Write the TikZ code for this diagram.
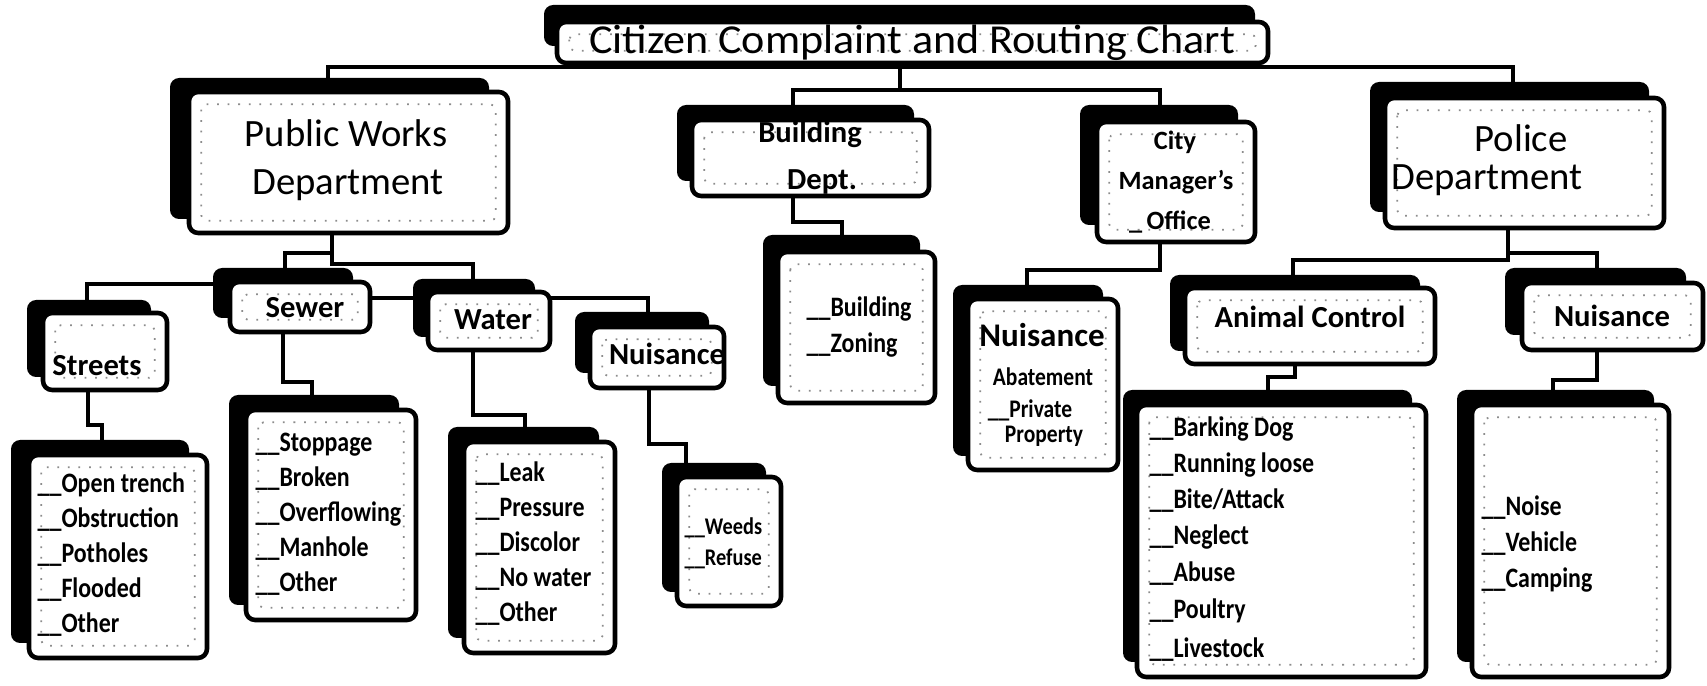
\documentclass[tikz,border=0pt]{standalone}
\usepackage{fontspec}
\setmainfont{Carlito}
\newfontfamily\listfont[FakeStretch=0.85]{Carlito}
\newfontfamily\titlefont[FakeStretch=1.07]{Carlito}
\pgfdeclarelayer{bg}
\pgfsetlayers{bg,main}
\tikzset{
 backsheet/.style={fill=black, rounded corners=2.6pt},
 frontcard/.style={rectangle, draw=black, fill=white, line width=1.3pt, rounded corners=2.6pt, inner sep=0pt, outer sep=0pt},
 innerdots/.style={draw=black!45, line width=0.5pt, dash pattern=on 0.5pt off 2.5pt, rounded corners=1.5pt},
 link/.style={draw=black, line width=1.25pt},
 titletxt/.style={font=\titlefont\fontsize{11.7}{14}\selectfont, inner sep=0pt, anchor=base},
 bigtxt/.style={font=\fontsize{11}{13}\selectfont, inner sep=0pt, anchor=base},
 labeltxt/.style={font=\bfseries\fontsize{8.7}{10}\selectfont, inner sep=0pt, anchor=base},
 bignuis/.style={font=\bfseries\fontsize{9.4}{11}\selectfont, inner sep=0pt, anchor=base},
 smalltxt/.style={font=\bfseries\fontsize{7.5}{9}\selectfont, inner sep=0pt, anchor=base},
 itemtxt/.style={font=\listfont\bfseries\fontsize{8}{9}\selectfont, inner sep=0pt, anchor=base west},
 itemsmall/.style={font=\listfont\bfseries\fontsize{6.8}{8}\selectfont, inner sep=0pt, anchor=base west},
 itemmid/.style={font=\listfont\bfseries\fontsize{7.2}{8}\selectfont, inner sep=0pt, anchor=base},
}
% name, x1, y1, x2, y2, dx, dy (shadow offset)
\newcommand\cardbox[7]{%
  \fill[backsheet] ({#2+#6},{#3+#7}) rectangle ({#4+#6},{#5+#7});
  \node[frontcard, minimum width={(#4-#2)*0.01cm}, minimum height={(#5-#3)*0.01cm}] (#1) at ({(#2+#4)/2},{(#3+#5)/2}) {};
  \draw[innerdots] ([shift={(3.5pt,-3.5pt)}]#1.north west) rectangle ([shift={(-3.5pt,3.5pt)}]#1.south east);
}
\begin{document}
\begin{tikzpicture}[x=0.01cm,y=-0.01cm]
\useasboundingbox (0,0) rectangle (1707,686);
\begin{pgfonlayer}{bg}
\fill[white] (0,0) rectangle (1707,686);
\end{pgfonlayer}

% helper coordinates
\foreach \v in {87,88,102,283,285,312,328,332,473,525,648,649,686,793,842,900,1027,1160,1268,1293,1295,1508,1513,1553,1597}
  {\coordinate (x\v) at (\v,0);}
\foreach \v in {90,222,253,260,264,270,284,298,377,380,382,415,425,444}
  {\coordinate (y\v) at (0,\v);}

% ---- boxes ----
\cardbox{title}{557}{22}{1268}{63}{-13}{-17}
\cardbox{pw}{189}{92}{508}{233}{-19}{-14}
\cardbox{police}{1385}{98}{1664}{228}{-15}{-16}
\cardbox{bd}{692}{120}{929}{196}{-15}{-15}
\cardbox{cm}{1097}{122}{1255}{242}{-17}{-17}
\cardbox{streets}{43}{313}{167}{390}{-16}{-13}
\cardbox{sewer}{230}{282}{370}{332}{-17}{-14}
\cardbox{water}{428}{292}{550}{350}{-15}{-13}
\cardbox{nuis1}{590}{327}{724}{388}{-15}{-15}
\cardbox{ac}{1185}{288}{1435}{364}{-15}{-13}
\cardbox{pn}{1522}{283}{1703}{350}{-17}{-15}
\cardbox{streetlist}{29}{455}{207}{658}{-18}{-15}
\cardbox{sewerlist}{246}{410}{416}{620}{-17}{-15}
\cardbox{waterlist}{464}{442}{615}{653}{-16}{-15}
\cardbox{nuis1list}{677}{477}{781}{606}{-15}{-14}
\cardbox{bdlist}{778}{252}{935}{403}{-15}{-17}
\cardbox{na}{968}{299}{1118}{470}{-15}{-14}
\cardbox{aclist}{1137}{405}{1426}{677}{-14}{-15}
\cardbox{pnlist}{1472}{405}{1669}{677}{-15}{-15}

% ---- texts ----
\node[titletxt] (title-t) at (912,54) {Citizen Complaint and Routing Chart};
\node[bigtxt] (pw-t1) at (346,147) {Public Works};
\node[bigtxt] (pw-t2) at (348,195) {Department};
\node[bigtxt] (police-t1) at (1521,152) {Police};
\node[bigtxt] (police-t2) at (1487,190) {Department};
\node[labeltxt] (bd-t1) at (810,143) {Building};
\node[labeltxt] (bd-t2) at (822,190) {Dept.};
\node[smalltxt] (cm-t1) at (1175,150) {City};
\node[smalltxt] (cm-t2) at (1176,190) {Manager's};
\node[smalltxt] (cm-t3) at (1170,230) {\_\,Office};
\node[labeltxt] (streets-t) at (97,376) {Streets};
\node[labeltxt] (sewer-t) at (305,318) {Sewer};
\node[labeltxt] (water-t) at (493,330) {Water};
\node[labeltxt] (nuis1-t) at (667,365) {Nuisance};
\node[labeltxt] (ac-t) at (1310,328) {Animal Control};
\node[labeltxt] (pn-t) at (1612,327) {Nuisance};

\node[itemtxt] (sl1) at (37,493) {\_\_Open trench};
\node[itemtxt] (sl2) at (37,528) {\_\_Obstruction};
\node[itemtxt] (sl3) at (37,563) {\_\_Potholes};
\node[itemtxt] (sl4) at (37,598) {\_\_Flooded};
\node[itemtxt] (sl5) at (37,633) {\_\_Other};

\node[itemtxt] (wl1) at (255,452) {\_\_Stoppage};
\node[itemtxt] (wl2) at (255,487) {\_\_Broken};
\node[itemtxt] (wl3) at (255,522) {\_\_Overflowing};
\node[itemtxt] (wl4) at (255,557) {\_\_Manhole};
\node[itemtxt] (wl5) at (255,592) {\_\_Other};

\node[itemtxt] (ql1) at (475,482) {\_\_Leak};
\node[itemtxt] (ql2) at (475,517) {\_\_Pressure};
\node[itemtxt] (ql3) at (475,552) {\_\_Discolor};
\node[itemtxt] (ql4) at (475,587) {\_\_No water};
\node[itemtxt] (ql5) at (475,622) {\_\_Other};

\node[itemsmall] (nl1) at (684,535) {\_\_Weeds};
\node[itemsmall] (nl2) at (684,566) {\_\_Refuse};

\node[itemtxt] (bl1) at (806,317) {\_\_Building};
\node[itemtxt] (bl2) at (806,353) {\_\_Zoning};

\node[bignuis] (na-t1) at (1042,347) {Nuisance};
\node[itemmid] (na-t2) at (1043,386) {Abatement};
\node[itemmid] (na-t3) at (1030,418) {\_\_Private};
\node[itemmid] (na-t4) at (1044,443) {Property};

\node[itemtxt] (al1) at (1149,437) {\_\_Barking Dog};
\node[itemtxt] (al2) at (1149,473) {\_\_Running loose};
\node[itemtxt] (al3) at (1149,509) {\_\_Bite/Attack};
\node[itemtxt] (al4) at (1149,545) {\_\_Neglect};
\node[itemtxt] (al5) at (1149,582) {\_\_Abuse};
\node[itemtxt] (al6) at (1149,619) {\_\_Poultry};
\node[itemtxt] (al7) at (1149,657) {\_\_Livestock};

\node[itemtxt] (pl1) at (1481,516) {\_\_Noise};
\node[itemtxt] (pl2) at (1481,552) {\_\_Vehicle};
\node[itemtxt] (pl3) at (1481,588) {\_\_Camping};

% ---- connectors (behind boxes) ----
\coordinate (tline) at ([yshift=-1.2pt]title.south);
\begin{pgfonlayer}{bg}
\draw[link] (title.south -| x900) -- (x900 |- tline) -- (x328 |- tline) -- (pw.north -| x328);
\draw[link] (title.south -| x900) -- (x900 |- tline) -- (x1513 |- tline) -- (police.north -| x1513);
\draw[link] (title.south -| x900) -- (x900 |- y90) -- (x793 |- y90) -- (bd.north -| x793);
\draw[link] (title.south -| x900) -- (x900 |- y90) -- (x1160 |- y90) -- (cm.north -| x1160);
\draw[link] (pw.south -| x332) -- (x332 |- y253) -- (x285 |- y253) -- (sewer.north -| x285);
\draw[link] (pw.south -| x332) -- (x332 |- y264) -- (x473 |- y264) -- (water.north -| x473);
\draw[link] (sewer.west |- y284) -- (x87 |- y284) -- (streets.north -| x87);
\draw[link] (sewer.east |- y298) -- (water.west |- y298);
\draw[link] (water.east |- y298) -- (x648 |- y298) -- (nuis1.north -| x648);
\draw[link] (streets.south -| x88) -- (x88 |- y425) -- (x102 |- y425) -- (streetlist.north -| x102);
\draw[link] (sewer.south -| x283) -- (x283 |- y382) -- (x312 |- y382) -- (sewerlist.north -| x312);
\draw[link] (water.south -| x473) -- (x473 |- y415) -- (x525 |- y415) -- (waterlist.north -| x525);
\draw[link] (nuis1.south -| x649) -- (x649 |- y444) -- (x686 |- y444) -- (nuis1list.north -| x686);
\draw[link] (bd.south -| x793) -- (x793 |- y222) -- (x842 |- y222) -- (bdlist.north -| x842);
\draw[link] (cm.south -| x1160) -- (x1160 |- y270) -- (x1027 |- y270) -- (na.north -| x1027);
\draw[link] (police.south -| x1508) -- (x1508 |- y260) -- (x1293 |- y260) -- (ac.north -| x1293);
\draw[link] (police.south -| x1508) -- (x1508 |- y253) -- (x1597 |- y253) -- (pn.north -| x1597);
\draw[link] (ac.south -| x1295) -- (x1295 |- y377) -- (x1268 |- y377) -- (aclist.north -| x1268);
\draw[link] (pn.south -| x1597) -- (x1597 |- y380) -- (x1553 |- y380) -- (pnlist.north -| x1553);
\end{pgfonlayer}
\end{tikzpicture}
\end{document}
